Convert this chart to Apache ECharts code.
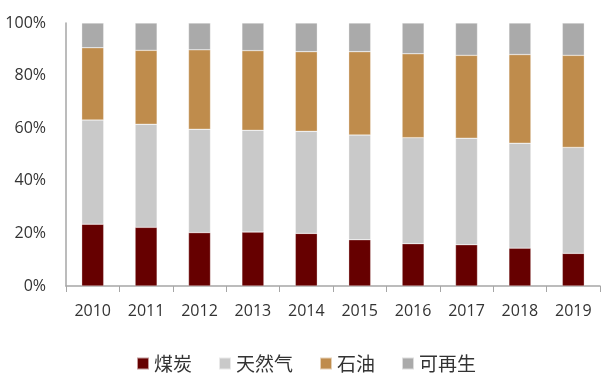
<!DOCTYPE html>
<html>
<head>
<meta charset="utf-8">
<script src="https://cdn.jsdelivr.net/npm/echarts@6/dist/echarts.min.js"></script>
<style>html,body{margin:0;padding:0;background:#fff}#c{width:612px;height:388px}</style>
</head>
<body>
<div id="c"></div>
<script>
const years = ['2010','2011','2012','2013','2014','2015','2016','2017','2018','2019'];
const coal = [23.5, 22.3, 20.3, 20.5, 20.0, 17.6, 16.1, 15.7, 14.4, 12.4];
const gas = [39.6, 39.2, 39.3, 38.7, 38.8, 39.8, 40.3, 40.5, 39.9, 40.3];
const oil = [27.5, 28.1, 30.2, 30.3, 30.3, 31.7, 31.9, 31.5, 33.7, 35.0];
const renewable = [9.4, 10.4, 10.2, 10.5, 10.9, 10.9, 11.7, 12.3, 12.0, 12.3];
const seriesNames = ['煤炭', '天然气', '石油', '可再生'];
const colors = ['#660000', '#c9c9c9', '#bf8c4c', '#aaaaaa'];

const chart = echarts.init(document.getElementById('c'), null, {renderer: 'canvas'});
const latin = '"Open Sans", "Noto Sans", sans-serif';
const cjk = '"Noto Sans CJK SC", sans-serif';
const mk = (name, data, i) => ({
  name, type: 'bar', stack: 'total', data,
  barWidth: 22,
  itemStyle: {color: colors[i], borderColor: 'rgba(255,255,255,0.6)', borderWidth: 0.5},
  emphasis: {disabled: true}
});
chart.setOption({
  animation: false,
  color: colors,
  grid: {left: 66, right: 12, top: 23, bottom: 102, containLabel: false},
  legend: {
    data: seriesNames,
    left: 'center', top: 349,
    itemWidth: 12, itemHeight: 12, itemGap: 26,
    icon: 'rect',
    textStyle: {fontFamily: cjk, fontSize: 19, color: '#333'}
  },
  xAxis: {
    type: 'category', data: years,
    axisLine: {lineStyle: {color: '#a6a6a6', width: 1.5}},
    axisTick: {show: true, length: 6, lineStyle: {color: '#a6a6a6'}},
    axisLabel: {fontFamily: latin, fontSize: 16, color: '#333', margin: 17}
  },
  yAxis: {
    type: 'value', min: 0, max: 100, interval: 20,
    axisLine: {show: true, lineStyle: {color: '#a6a6a6', width: 1.5}},
    axisTick: {show: false},
    splitLine: {show: false},
    axisLabel: {formatter: '{value}%', fontFamily: latin, fontSize: 16, color: '#333', margin: 20}
  },
  series: [mk(seriesNames[0], coal, 0), mk(seriesNames[1], gas, 1), mk(seriesNames[2], oil, 2), mk(seriesNames[3], renewable, 3)]
});
</script>
</body>
</html>
